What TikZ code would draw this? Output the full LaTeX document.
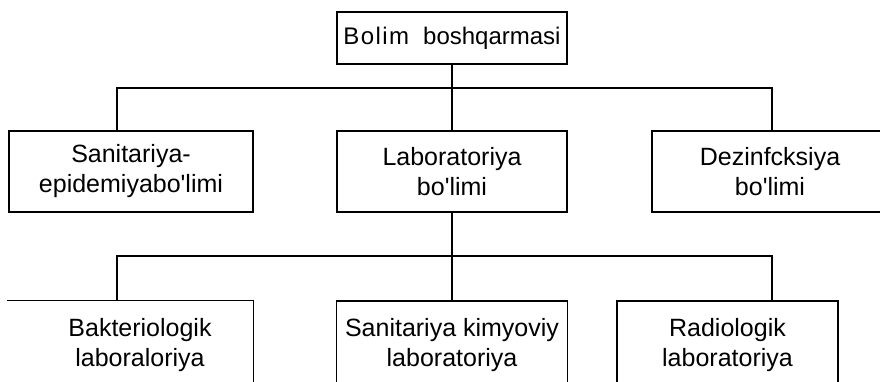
\documentclass[tikz,border=0pt]{standalone}
\usepackage{fontspec}
\newfontfamily\orgfont{Liberation Sans}
\usetikzlibrary{positioning}
\tikzset{
  dept/.style={draw, line width=1.2pt, font=\orgfont\fontsize{25}{30}\selectfont,
    align=center, inner sep=0pt, minimum height=81pt},
  lowtext/.style={execute at begin node={\rule{0pt}{25pt}}},
  link/.style={line width=1.2pt},
}

\begin{document}
\begin{tikzpicture}[x=1pt, y=-1pt]
\useasboundingbox (0,0) rectangle (880,381);
\clip (0,0) rectangle (880,381);

\node[dept, font=\orgfont\fontsize{24}{30}\selectfont, minimum width=230pt, minimum height=52pt] (head) at (452,38)
  {{\addfontfeature{LetterSpace=6}Bolim}\hspace{14pt}boshqarmasi};

% Departments.
\node[dept, lowtext, minimum width=244pt] (sanepid) at (131,171.5) {Sanitariya-\\epidemiyabo'limi};
\node[dept, lowtext, minimum width=230pt] (lab) at (452,171.5) {Laboratoriya\\bo'limi};
\node[dept, lowtext, minimum width=236pt] (dez) at (770,171.5) {Dezinfcksiya\\bo'limi};

% Laboratories, cut off by the lower edge.
\node[dept, lowtext, draw=none, minimum width=226pt, minimum height=89pt] (bakt) at (140,345.5) {Bakteriologik\\laboraloriya};
\draw[link] ([xshift=-19pt]bakt.north west) -- (bakt.north east) -- (bakt.south east);
\node[dept, lowtext, minimum width=231pt, minimum height=89pt] (kim) at (452,345.5) {Sanitariya kimyoviy\\laboratoriya};
\node[dept, lowtext, minimum width=221pt, minimum height=89pt] (rad) at (727.5,345.5) {Radiologik\\laboratoriya};

\coordinate (busa) at (117,88);
\coordinate (busb) at (772,88);
\coordinate (busc) at (117,256);
\coordinate (busd) at (772,256);

\draw[link] (head.south) -- (lab.north);
\draw[link] (sanepid.north -| busa) -- (busa) -- (busb) -- (dez.north -| busb);
\draw[link] (lab.south) -- (kim.north);
\draw[link] (bakt.north -| busc) -- (busc) -- (busd) -- (rad.north -| busd);

\end{tikzpicture}
\end{document}
